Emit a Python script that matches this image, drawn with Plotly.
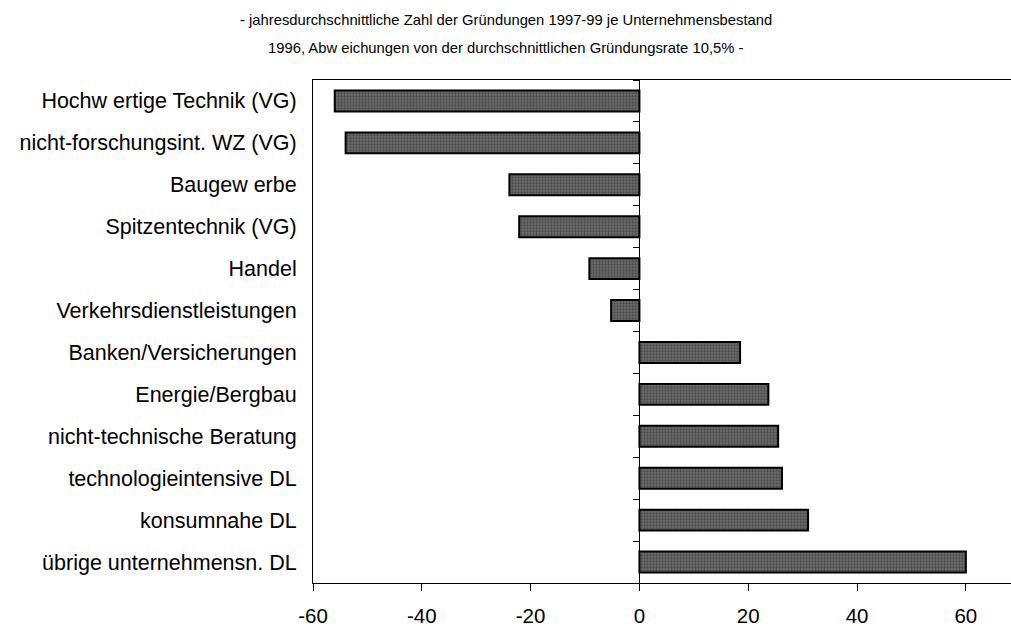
import plotly.graph_objects as go

categories = [
    "Hochw ertige Technik (VG)",
    "nicht-forschungsint. WZ (VG)",
    "Baugew erbe",
    "Spitzentechnik (VG)",
    "Handel",
    "Verkehrsdienstleistungen",
    "Banken/Versicherungen",
    "Energie/Bergbau",
    "nicht-technische Beratung",
    "technologieintensive DL",
    "konsumnahe DL",
    "übrige unternehmensn. DL",
]
values = [-56.0, -54.0, -23.9, -22.1, -9.2, -5.2, 18.5, 23.7, 25.5, 26.2, 31.0, 60.0]
x_ticks = [-60, -40, -20, 0, 20, 40, 60]
title_line1 = "- jahresdurchschnittliche Zahl der Gründungen 1997-99 je Unternehmensbestand"
title_line2 = "1996, Abw eichungen von der durchschnittlichen Gründungsrate 10,5% -"

FONT = "Liberation Sans, Arial, sans-serif"
W, H = 1011, 626
L, R, T, B = 313, 0, 80, 43
x_min, x_max = -60, 68.3

fig = go.Figure()
fig.add_trace(go.Bar(
    x=values, y=categories, orientation="h",
    marker=dict(
        color="#5a5a5a",
        line=dict(color="#000000", width=2),
        pattern=dict(shape=".", fgcolor="#2a2a2a", bgcolor="#6c6c6c", size=3, solidity=0.45),
    ),
    hoverinfo="x+y",
    showlegend=False,
))
# invisible companion trace to drive the zero-line axis with category boundary ticks
fig.add_trace(go.Bar(
    x=values, y=categories, orientation="h", yaxis="y2",
    marker=dict(color="rgba(0,0,0,0)", line=dict(width=0)),
    hoverinfo="skip", showlegend=False,
))

zero_pos = (0 - x_min) / (x_max - x_min)

fig.update_layout(
    width=W, height=H,
    margin=dict(l=L, r=R, t=T, b=B, pad=0, autoexpand=False),
    paper_bgcolor="white", plot_bgcolor="white",
    font=dict(family=FONT, size=20, color="#000000"),
    bargap=0.5,
    showlegend=False,
    xaxis=dict(
        range=[x_min, x_max],
        tickvals=x_ticks,
        ticktext=[str(v) for v in x_ticks],
        ticks="outside", ticklen=7, tickwidth=1, tickcolor="#000000",
        showline=True, linecolor="#000000", linewidth=1, mirror=True,
        showgrid=False, zeroline=False, automargin=False,
        tickfont=dict(family=FONT, size=20.5),
        ticklabelstandoff=7,
    ),
    yaxis=dict(
        categoryorder="array", categoryarray=categories,
        autorange="reversed",
        showline=True, linecolor="#000000", linewidth=1,
        ticks="", showgrid=False, zeroline=False, automargin=False,
        tickfont=dict(family=FONT, size=21.5),
        ticklabelstandoff=11,
    ),
    yaxis2=dict(
        overlaying="y", matches="y", anchor="free", position=zero_pos,
        side="left", automargin=False,
        showline=True, linecolor="#000000", linewidth=1,
        ticks="outside", tickson="boundaries", ticklen=6, tickwidth=1, tickcolor="#000000",
        showticklabels=False, showgrid=False, zeroline=False,
    ),
)

plot_h = H - T - B
plot_w = W - L - R
cx = (506 - L) / plot_w
fig.add_annotation(text=title_line1, xref="paper", yref="paper",
                   x=cx, y=(H - B - 20) / plot_h,
                   xanchor="center", yanchor="middle", showarrow=False,
                   font=dict(family=FONT, size=14.8))
fig.add_annotation(text=title_line2, xref="paper", yref="paper",
                   x=cx, y=(H - B - 48) / plot_h,
                   xanchor="center", yanchor="middle", showarrow=False,
                   font=dict(family=FONT, size=14.8))

post = (
    "document.documentElement.style.margin='0';"
    "document.documentElement.style.overflow='hidden';"
    "document.body.style.margin='0';"
    "document.body.style.overflow='hidden';"
)
fig.write_html("out.html", post_script=post, config={"displayModeBar": False})
